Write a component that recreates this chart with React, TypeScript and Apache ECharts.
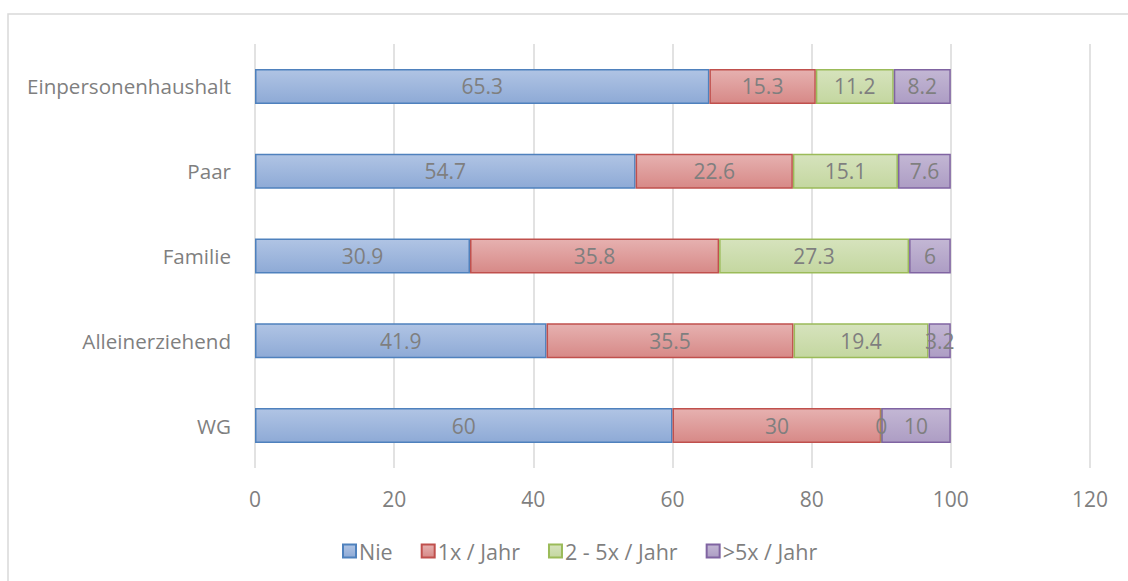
import React, { useEffect, useRef } from "react";
import * as echarts from "echarts";

const categories = ["Einpersonenhaushalt", "Paar", "Familie", "Alleinerziehend", "WG"];
const nie = [65.3, 54.7, 30.9, 41.9, 60];
const einmal = [15.3, 22.6, 35.8, 35.5, 30];
const zweiBisFuenf = [11.2, 15.1, 27.3, 19.4, 0];
const mehrAlsFuenf = [8.2, 7.6, 6, 3.2, 10];
const seriesNames = ["Nie", "1x / Jahr", "2 - 5x / Jahr", ">5x / Jahr"];

const FONT = "'Open Sans', Arial, sans-serif";

export default function App() {
  const ref = useRef<HTMLDivElement>(null);
  useEffect(() => {
    if (!ref.current) return;
    const chart = echarts.init(ref.current, undefined, { renderer: "svg" });
    const grad = (a: string, b: string) =>
      new echarts.graphic.LinearGradient(0, 0, 0, 1, [
        { offset: 0, color: a },
        { offset: 1, color: b },
      ]);
    const styles = [
      { fill: grad("#b0c4e4", "#8eaad6"), border: "#4f81bd" },
      { fill: grad("#e6b1b0", "#d78987"), border: "#c0504d" },
      { fill: grad("#d6e3bd", "#c4d7a0"), border: "#9bbb59" },
      { fill: grad("#c3b7d4", "#ad9dc4"), border: "#8064a2" },
    ];
    const data = [nie, einmal, zweiBisFuenf, mehrAlsFuenf];
    chart.setOption({
      animation: false,
      textStyle: { fontFamily: FONT },
      graphic: [
        {
          type: "rect",
          shape: { x: 8, y: 14, width: 1300, height: 700 },
          style: { fill: "none", stroke: "#d9d9d9", lineWidth: 1.5 },
          silent: true,
          z: -10,
        },
      ],
      grid: { left: 255, right: 38, top: 44, bottom: 113, containLabel: false },
      legend: {
        bottom: 14,
        left: 337,
        itemWidth: 13,
        itemHeight: 13,
        itemGap: 28,
        icon: "rect",
        textStyle: { color: "#7f7f7f", fontSize: 21.5, fontFamily: FONT, padding: [0, 0, 0, -2] },
        data: seriesNames,
      },
      xAxis: {
        type: "value",
        min: 0,
        max: 120,
        interval: 20,
        axisLine: { show: false },
        axisTick: { show: false },
        splitLine: { lineStyle: { color: "#d9d9d9", width: 1.5 } },
        axisLabel: { color: "#7f7f7f", fontSize: 21, margin: 20, fontFamily: FONT },
      },
      yAxis: {
        type: "category",
        inverse: true,
        data: categories,
        axisLine: { show: false },
        axisTick: { show: false },
        axisLabel: { color: "#7f7f7f", fontSize: 20.6, margin: 24, fontFamily: FONT },
      },
      series: data.map((d, i) => ({
        name: seriesNames[i],
        type: "bar",
        stack: "total",
        barWidth: 35,
        data: d,
        itemStyle: {
          color: styles[i].fill,
          borderColor: styles[i].border,
          borderWidth: 1.5,
        },
        label: {
          show: true,
          position: "inside",
          color: "#7f7f7f",
          fontSize: 21,
          fontFamily: FONT,
        },
      })),
    });
    return () => chart.dispose();
  }, []);
  return (
    <div
      ref={ref}
      style={{ position: "absolute", left: 0, top: 0, width: 1128, height: 581, background: "#fff" }}
    />
  );
}
